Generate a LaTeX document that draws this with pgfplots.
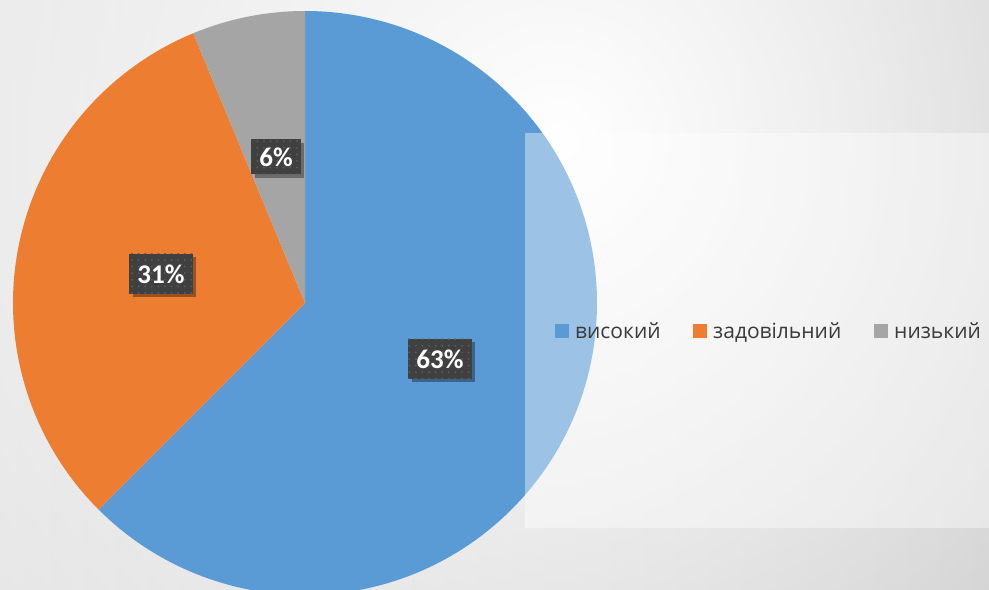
\documentclass[border=0pt]{standalone}
\usepackage{pgfplots}
\pgfplotsset{compat=1.18}
\usepackage{pgfplotstable}
\usepackage{fontspec}
\setmainfont{Carlito}
\newfontfamily\legfont{Open Sans}
\usetikzlibrary{shadows,fadings,patterns.meta}
\tikzfading[name=glow, inner color=transparent!0, outer color=transparent!100]
\definecolor{cBlue}{HTML}{5B9BD5}
\definecolor{cOrange}{HTML}{ED7D31}
\definecolor{cGray}{HTML}{A5A5A5}
\definecolor{boxgray}{HTML}{404040}
\definecolor{dotgray}{HTML}{5E5E5E}
\definecolor{legtext}{HTML}{3A3A3A}
\definecolor{bgL}{HTML}{E2E2E2}
\definecolor{bgR}{HTML}{C4C4C4}
% shares in percent (labels shown rounded), slices clockwise from 12 o'clock
\pgfplotstableread{
name value label
high 62.5 63
mid 31.25 31
low 6.25 6
}\piedata
\pgfplotstablegetelem{0}{value}\of\piedata \let\vA\pgfplotsretval
\pgfplotstablegetelem{1}{value}\of\piedata \let\vB\pgfplotsretval
\pgfplotstablegetelem{2}{value}\of\piedata \let\vC\pgfplotsretval
\pgfplotstablegetelem{0}{label}\of\piedata \let\lA\pgfplotsretval
\pgfplotstablegetelem{1}{label}\of\piedata \let\lB\pgfplotsretval
\pgfplotstablegetelem{2}{label}\of\piedata \let\lC\pgfplotsretval
\pgfmathsetmacro\aA{90}
\pgfmathsetmacro\aB{90-3.6*\vA}
\pgfmathsetmacro\aC{\aB-3.6*\vB}
\pgfmathsetmacro\aD{\aC-3.6*\vC}
\begin{document}
\begin{tikzpicture}
\begin{axis}[
  x=1bp, y=1bp,
  xmin=0, xmax=989, ymin=0, ymax=590,
  hide axis, clip=true,
]
% background
\shade[left color=bgL, right color=bgR] (axis cs:0,0) rectangle (axis cs:989,590);
\fill[white, path fading=glow] (axis cs:560,450) circle (880bp);
% pie
\fill[cBlue] (axis cs:305,287) -- ++(\aA:292bp) arc[start angle=\aA, end angle=\aB, radius=292bp] -- cycle;
\fill[cOrange] (axis cs:305,287) -- ++(\aB:292bp) arc[start angle=\aB, end angle=\aC, radius=292bp] -- cycle;
\fill[cGray] (axis cs:305,287) -- ++(\aC:292bp) arc[start angle=\aC, end angle=\aD, radius=292bp] -- cycle;
% legend panel
\fill[white, opacity=0.4] (axis cs:525,62) rectangle (axis cs:989,457);
% data labels
\tikzset{dlab/.style={fill=boxgray, text=white, font=\fontsize{27bp}{30bp}\selectfont\bfseries,
  inner xsep=8bp, minimum height=40bp, inner ysep=0bp,
  drop shadow={shadow xshift=3.5bp, shadow yshift=-3.5bp, opacity=0.35, fill=black},
  postaction={pattern={Dots[distance=6.6bp, radius=1bp]}, pattern color=dotgray}}}
\node[dlab] at (axis cs:440,231) {\lA\%};
\node[dlab] at (axis cs:161,316) {\lB\%};
\node[dlab, minimum height=35bp] at (axis cs:276,433) {\lC\%};
% legend
\tikzset{legt/.style={anchor=base west, inner sep=0pt, text=legtext, font=\legfont\fontsize{21bp}{24bp}\selectfont}}
\fill[cBlue] (axis cs:555,252) rectangle (axis cs:569,266);
\node[legt] at (axis cs:575,252) {високий};
\fill[cOrange] (axis cs:693,252) rectangle (axis cs:707,266);
\node[legt] at (axis cs:713,252) {задовільний};
\fill[cGray] (axis cs:874,252) rectangle (axis cs:888,266);
\node[legt] at (axis cs:894,252) {низький};
\end{axis}
\pgfresetboundingbox
\path (0,0) rectangle (989bp,590bp);
\end{tikzpicture}
\end{document}
